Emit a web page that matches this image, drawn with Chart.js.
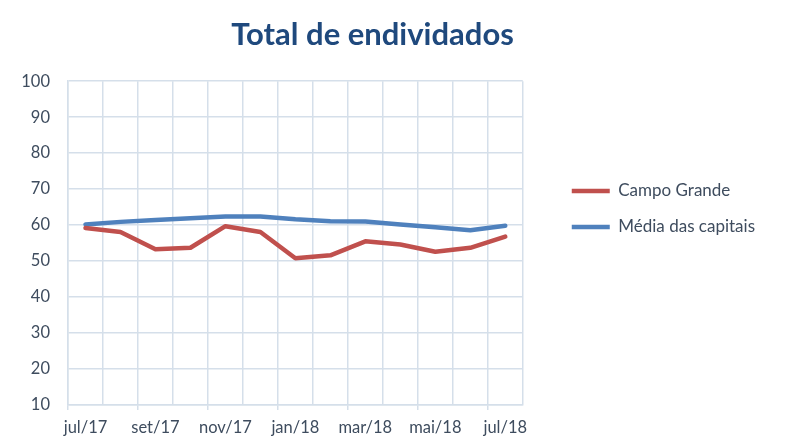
<!DOCTYPE html>
<html lang="pt-br">
<head>
    <meta charset="UTF-8">
    <title>Total de endividados</title>
    <style>
        html, body { margin: 0; padding: 0; background: #fff; }
        #box { width: 793px; height: 448px; }
    </style>
</head>
<body>
    <div id="box">
        <canvas id="myChart" width="793" height="448"></canvas>
    </div>

    <script src="https://cdn.jsdelivr.net/npm/chart.js@4/dist/chart.umd.min.js"></script>
    <script>
        const meses = ['jul/17', 'ago/17', 'set/17', 'out/17', 'nov/17', 'dez/17',
            'jan/18', 'fev/18', 'mar/18', 'abr/18', 'mai/18', 'jun/18', 'jul/18']
        const campoGrande = [59.2, 58.1, 53.3, 53.7, 59.7, 58.1, 50.8, 51.6, 55.5, 54.6, 52.6, 53.7, 56.8]
        const mediaCapitais = [60.2, 60.9, 61.4, 61.9, 62.4, 62.4, 61.6, 61.1, 61.0, 60.2, 59.4, 58.6, 59.8]
        const nomes = ['Campo Grande', 'Média das capitais']

        const corGrade = '#D5DFEA'
        const corTexto = '#3E4C5E'

        Chart.defaults.font.family = 'Lato, "Open Sans", sans-serif'
        Chart.defaults.color = corTexto

        // o titulo no original fica um pouco a esquerda do centro
        const tituloDeslocado = {
            id: 'tituloDeslocado',
            afterLayout(chart) {
                const t = chart.titleBlock
                t.left = 0
                t.right = 745
                t.width = 745
            }
        }

        var ctx = document.getElementById('myChart').getContext('2d')
        var myChart = new Chart(ctx, {
            type: 'line',
            data: {
                labels: meses,
                datasets: [{
                    label: nomes[0],
                    data: campoGrande,
                    borderColor: '#C0504D',
                    backgroundColor: '#C0504D',
                    borderWidth: 4.5,
                    borderCapStyle: 'round',
                    borderJoinStyle: 'round',
                    pointRadius: 0,
                    tension: 0
                }, {
                    label: nomes[1],
                    data: mediaCapitais,
                    borderColor: '#4F81BD',
                    backgroundColor: '#4F81BD',
                    borderWidth: 4.5,
                    borderCapStyle: 'round',
                    borderJoinStyle: 'round',
                    pointRadius: 0,
                    tension: 0
                }]
            },
            plugins: [tituloDeslocado],
            options: {
                responsive: false,
                animation: false,
                layout: { padding: { left: 0, right: 28, top: 0, bottom: 0 } },
                plugins: {
                    title: {
                        display: true,
                        text: 'Total de endividados',
                        color: '#1F497D',
                        font: { size: 31, weight: 'bold' },
                        padding: { top: 16, bottom: 28 }
                    },
                    legend: {
                        position: 'right',
                        align: 'start',
                        maxWidth: 260,
                        title: { display: true, text: ' ', padding: { top: 119, bottom: 30 } },
                        labels: {
                            usePointStyle: true,
                            pointStyle: 'line',
                            pointStyleWidth: 38,
                            padding: 19,
                            color: corTexto,
                            font: { size: 17 }
                        }
                    },
                    tooltip: { enabled: false }
                },
                scales: {
                    x: {
                        offset: true,
                        grid: {
                            offset: true,
                            color: corGrade,
                            lineWidth: 1.5,
                            tickLength: 5,
                            tickColor: (c) => c.index % 2 === 0 ? corGrade : 'rgba(0,0,0,0)'
                        },
                        border: { color: corGrade, width: 1.5 },
                        ticks: {
                            autoSkip: false,
                            maxRotation: 0,
                            padding: 8,
                            color: corTexto,
                            font: { size: 16.5 },
                            callback: function (v, i) { return i % 2 === 0 ? meses[i] : '' }
                        },
                        afterFit: (s) => { s.height = 43 }
                    },
                    y: {
                        min: 10,
                        max: 100,
                        ticks: { stepSize: 10, padding: 18, color: corTexto, font: { size: 16.5 } },
                        grid: { color: corGrade, lineWidth: 1.5, drawTicks: false },
                        border: { color: corGrade, width: 1.5 },
                        afterFit: (s) => { s.width = 68 }
                    },
                    vazio: {
                        position: 'right',
                        display: true,
                        ticks: { display: false },
                        grid: { display: false },
                        border: { display: false },
                        afterFit: (s) => { s.width = 30 }
                    }
                }
            }
        });
    </script>
</body>
</html>
